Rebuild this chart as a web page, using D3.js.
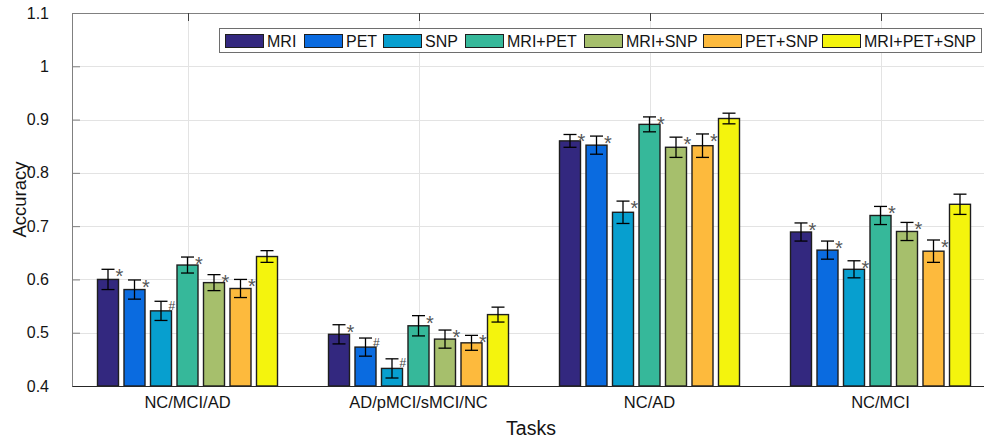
<!DOCTYPE html>
<html>
<head>
<meta charset="utf-8">
<script src="https://cdn.jsdelivr.net/npm/d3@7"></script>
<style>
  html, body { margin: 0; padding: 0; background: #fff; }
  svg { display: block; font-family: "Liberation Sans", Arial, sans-serif; }
</style>
</head>
<body>
<svg id="chart" width="984" height="439"></svg>
<script>
// Classification tasks and the modality combinations compared on each
const categories = ["NC/MCI/AD", "AD/pMCI/sMCI/NC", "NC/AD", "NC/MCI"];
const series = ["MRI", "PET", "SNP", "MRI+PET", "MRI+SNP", "PET+SNP", "MRI+PET+SNP"];
const colors = ["#33287f", "#0a6be0", "#079fcf", "#36b89a", "#a6bf6c", "#fdba3d", "#f4f40d"];

// Mean accuracy per task (rows) and modality (columns)
const accuracy = [
  [0.600, 0.581, 0.541, 0.627, 0.594, 0.583, 0.643],
  [0.497, 0.473, 0.433, 0.513, 0.488, 0.481, 0.534],
  [0.860, 0.852, 0.726, 0.891, 0.848, 0.851, 0.902],
  [0.689, 0.655, 0.619, 0.720, 0.690, 0.653, 0.741]
];
// Standard deviation shown by the error bars
const stdev = [
  [0.019, 0.018, 0.018, 0.015, 0.015, 0.017, 0.011],
  [0.018, 0.017, 0.018, 0.019, 0.017, 0.014, 0.014],
  [0.012, 0.017, 0.021, 0.014, 0.019, 0.022, 0.010],
  [0.017, 0.017, 0.016, 0.017, 0.017, 0.021, 0.019]
];
// Significance markers against the full MRI+PET+SNP model
const marks = [
  ["*", "*", "#", "*", "*", "*", ""],
  ["*", "#", "#", "*", "*", "*", ""],
  ["*", "*", "*", "*", "*", "*", ""],
  ["*", "*", "*", "*", "*", "*", ""]
];
const yTicks = [0.4, 0.5, 0.6, 0.7, 0.8, 0.9, 1.0, 1.1];
const yTickLabels = ["0.4", "0.5", "0.6", "0.7", "0.8", "0.9", "1", "1.1"];

const svg = d3.select("#chart");
const plotL = 72, plotR = 996, plotT = 13, plotB = 386;

const y = d3.scaleLinear().domain([0.4, 1.1]).range([plotB, plotT]);
const x0 = d3.scaleBand().domain(categories).range([plotL, plotR]).padding(0);
const x1 = d3.scaleBand().domain(series).range([-90, 90]).paddingInner(0.2075).paddingOuter(0);
const colorOf = d3.scaleOrdinal().domain(series).range(colors);
const cx = c => x0(c) + x0.bandwidth() / 2;

// grid
const grid = svg.append("g").attr("stroke", "#e3e3e3").attr("stroke-width", 1);
grid.selectAll("line.h").data(yTicks.slice(1)).join("line").attr("class", "h")
  .attr("x1", plotL).attr("x2", plotR)
  .attr("y1", d => Math.round(y(d)) + 0.5).attr("y2", d => Math.round(y(d)) + 0.5);
grid.selectAll("line.v").data(categories).join("line").attr("class", "v")
  .attr("x1", d => Math.round(cx(d)) + 0.5).attr("x2", d => Math.round(cx(d)) + 0.5)
  .attr("y1", plotT).attr("y2", plotB);

// top border with inward ticks
svg.append("line").attr("x1", plotL).attr("x2", plotR).attr("y1", plotT + 0.5).attr("y2", plotT + 0.5)
  .attr("stroke", "#808080");
svg.append("g").selectAll("line").data(categories).join("line")
  .attr("x1", d => Math.round(cx(d)) + 0.5).attr("x2", d => Math.round(cx(d)) + 0.5)
  .attr("y1", plotT).attr("y2", plotT + 8).attr("stroke", "#404040");

// bars
const rows = categories.flatMap((c, i) => series.map((s, j) => ({
  c, s, v: accuracy[i][j], e: stdev[i][j], m: marks[i][j]
})));
const g = svg.append("g");
g.selectAll("rect").data(rows).join("rect")
  .attr("x", d => cx(d.c) + x1(d.s))
  .attr("y", d => y(d.v))
  .attr("width", x1.bandwidth())
  .attr("height", d => y(0.4) - y(d.v))
  .attr("fill", d => colorOf(d.s))
  .attr("stroke", "#1e1e1e").attr("stroke-width", 1.4);

// error bars
const eb = svg.append("g").attr("stroke", "#000").attr("stroke-width", 1.3);
rows.forEach(d => {
  const xc = cx(d.c) + x1(d.s) + x1.bandwidth() / 2;
  const y1 = y(d.v + d.e), y2 = y(d.v - d.e);
  eb.append("line").attr("x1", xc).attr("x2", xc).attr("y1", y1).attr("y2", y2);
  eb.append("line").attr("x1", xc - 6.5).attr("x2", xc + 6.5).attr("y1", y1).attr("y2", y1);
  eb.append("line").attr("x1", xc - 6.5).attr("x2", xc + 6.5).attr("y1", y2).attr("y2", y2);
});

// significance markers
svg.append("g").selectAll("text").data(rows.filter(d => d.m)).join("text")
  .attr("x", d => cx(d.c) + x1(d.s) + x1.bandwidth() - 3)
  .attr("y", d => y(d.v + d.e) + (d.m === "*" ? 14 : 8.5))
  .attr("font-size", d => d.m === "*" ? 20 : 12)
  .attr("fill", d => d.m === "*" ? "#555" : "#444")
  .text(d => d.m);

// axes
const yAxis = svg.append("g").attr("transform", `translate(${plotL},0)`)
  .call(d3.axisLeft(y).tickValues(yTicks).tickFormat((d, i) => yTickLabels[i]).tickSizeInner(-8).tickSizeOuter(0).tickPadding(23));
yAxis.select(".domain").attr("stroke", "#808080");
yAxis.selectAll(".tick line").attr("stroke", "#808080");
yAxis.selectAll("text").attr("font-size", 16).attr("fill", "#141414").attr("font-family", "Liberation Sans, Arial, sans-serif");

const xAxis = svg.append("g").attr("transform", `translate(0,${plotB})`)
  .call(d3.axisBottom(x0).tickSize(0).tickPadding(10));
xAxis.select(".domain").attr("stroke", "#262626");
xAxis.selectAll("text").attr("font-size", 16.5).attr("fill", "#141414").attr("font-family", "Liberation Sans, Arial, sans-serif");

svg.append("text").attr("x", (plotL + plotR) / 2 - 3).attr("y", 435).attr("text-anchor", "middle")
  .attr("font-size", 19.5).attr("fill", "#141414").text("Tasks");
svg.append("text").attr("transform", `translate(26,${(plotT + plotB) / 2}) rotate(-90)`)
  .attr("text-anchor", "middle").attr("font-size", 18.5).attr("fill", "#141414").text("Accuracy");

// legend
const legend = svg.append("g");
legend.append("rect").attr("x", 219.5).attr("y", 28.5).attr("width", 762).attr("height", 24)
  .attr("fill", "#fff").attr("stroke", "#6e6e6e");
const legX = [225, 304, 383, 465, 584, 703, 822];
series.forEach((s, j) => {
  legend.append("rect").attr("x", legX[j] + 0.5).attr("y", 34.5).attr("width", 38).attr("height", 13)
    .attr("fill", colorOf(s)).attr("stroke", "#1e1e1e").attr("stroke-width", 1);
  legend.append("text").attr("x", legX[j] + 42).attr("y", 46.5).attr("font-size", 16)
    .attr("fill", "#141414").text(s);
});
</script>
</body>
</html>
